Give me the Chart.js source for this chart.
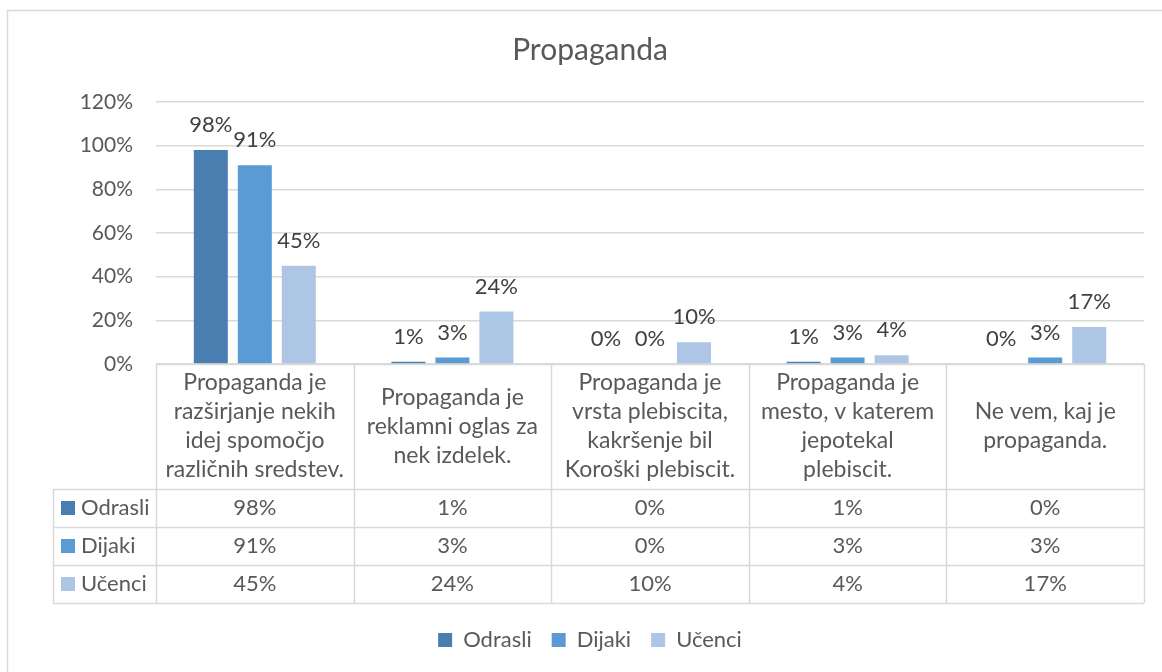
<!DOCTYPE html>
<html>
<head>
<meta charset="utf-8">
<title>Propaganda</title>
<script src="https://cdn.jsdelivr.net/npm/chart.js@4"></script>
<style>
  html, body { margin: 0; padding: 0; background: #fff; }
  #wrap { width: 1162px; height: 672px; position: relative; }
</style>
</head>
<body>
<div id="wrap"><canvas id="propChart" width="1162" height="672"></canvas></div>
<script>
// categories (already split into lines like in the original table header)
const categories = [
  ['Propaganda je', 'razširjanje nekih', 'idej spomočjo', 'različnih sredstev.'],
  ['Propaganda je', 'reklamni oglas za', 'nek izdelek.'],
  ['Propaganda je', 'vrsta plebiscita,', 'kakršenje bil', 'Koroški plebiscit.'],
  ['Propaganda je', 'mesto, v katerem', 'jepotekal', 'plebiscit.'],
  ['Ne vem, kaj je', 'propaganda.']
];
const seriesNames = ['Odrasli', 'Dijaki', 'Učenci'];
const odrasli = [98, 1, 0, 1, 0];
const dijaki = [91, 3, 0, 3, 3];
const ucenci = [45, 24, 10, 4, 17];
const yTicks = [0, 20, 40, 60, 80, 100, 120];

const colors = ['#4a7eb0', '#5b9bd5', '#adc6e5'];
const FONT = 'Lato, "Open Sans", sans-serif';
const textColor = '#595959';
const lineColor = '#d9d9d9';

const HEADER_H = 125;
const ROW_H = 38;
const LEFT_COL = 53;

// frame around the chart object (only top and left edges are in view)
const framePlugin = {
  id: 'frame',
  beforeDraw(chart) {
    const ctx = chart.ctx;
    ctx.save();
    ctx.strokeStyle = lineColor;
    ctx.lineWidth = 1.5;
    ctx.beginPath();
    ctx.moveTo(7.5, chart.height);
    ctx.lineTo(7.5, 10.5);
    ctx.lineTo(chart.width, 10.5);
    ctx.stroke();
    ctx.restore();
  }
};

// value labels above the bars
const valueLabels = {
  id: 'valueLabels',
  afterDatasetsDraw(chart) {
    const ctx = chart.ctx;
    ctx.save();
    ctx.font = '22px ' + FONT;
    ctx.fillStyle = '#404040';
    ctx.textAlign = 'center';
    ctx.textBaseline = 'middle';
    chart.data.datasets.forEach((ds, i) => {
      chart.getDatasetMeta(i).data.forEach((bar, j) => {
        ctx.fillText(ds.data[j] + '%', bar.x, bar.y - 25);
      });
    });
    ctx.restore();
  }
};

// data table under the plot (header with categories + one row per series)
const dataTable = {
  id: 'dataTable',
  afterDraw(chart) {
    const ctx = chart.ctx;
    const area = chart.chartArea;
    const x = chart.scales.x;
    const n = chart.data.labels.length;
    const colW = (area.right - area.left) / n;
    const top = area.bottom;
    const rowsTop = top + HEADER_H;
    const bottom = rowsTop + ROW_H * seriesNames.length;

    ctx.save();
    ctx.strokeStyle = lineColor;
    ctx.lineWidth = 1.5;
    ctx.beginPath();
    // vertical lines
    for (let i = 0; i <= n; i++) {
      const px = Math.round(area.left + colW * i) + 0.5;
      ctx.moveTo(px, top);
      ctx.lineTo(px, bottom);
    }
    ctx.moveTo(LEFT_COL + 0.5, rowsTop);
    ctx.lineTo(LEFT_COL + 0.5, bottom);
    // horizontal lines
    ctx.moveTo(area.left, top + 0.5);
    ctx.lineTo(area.right, top + 0.5);
    for (let r = 0; r <= seriesNames.length; r++) {
      const py = Math.round(rowsTop + ROW_H * r) + 0.5;
      ctx.moveTo(LEFT_COL, py);
      ctx.lineTo(area.right, py);
    }
    ctx.stroke();

    ctx.font = '23px ' + FONT;
    ctx.fillStyle = textColor;
    ctx.textAlign = 'center';
    ctx.textBaseline = 'middle';
    const lh = 29;
    chart.data.labels.forEach((lines, i) => {
      const cx = x.getPixelForValue(i);
      const y0 = top + HEADER_H / 2 - (lines.length - 1) * lh / 2;
      lines.forEach((t, k) => ctx.fillText(t, cx, y0 + k * lh));
    });

    ctx.font = '22px ' + FONT;
    chart.data.datasets.forEach((ds, r) => {
      const cy = rowsTop + ROW_H * r + ROW_H / 2;
      ctx.fillStyle = ds.backgroundColor;
      ctx.fillRect(LEFT_COL + 8, cy - 7, 14, 14);
      ctx.fillStyle = textColor;
      ctx.textAlign = 'left';
      ctx.fillText(ds.label, LEFT_COL + 28, cy);
      ctx.textAlign = 'center';
      ds.data.forEach((v, i) => {
        ctx.fillText(v + '%', x.getPixelForValue(i), cy);
      });
    });
    ctx.restore();
  }
};

new Chart(document.getElementById('propChart'), {
  type: 'bar',
  data: {
    labels: categories,
    datasets: [
      { label: seriesNames[0], data: odrasli, backgroundColor: colors[0] },
      { label: seriesNames[1], data: dijaki, backgroundColor: colors[1] },
      { label: seriesNames[2], data: ucenci, backgroundColor: colors[2] }
    ]
  },
  options: {
    responsive: false,
    animation: false,
    datasets: {
      bar: { categoryPercentage: 0.668, barPercentage: 0.773 }
    },
    layout: { padding: { left: 36, right: 18, top: 0, bottom: 11 } },
    scales: {
      x: {
        grid: { display: false },
        border: { display: false },
        ticks: { display: false },
        afterFit(scale) { scale.height = 245; }
      },
      y: {
        min: yTicks[0],
        max: yTicks[yTicks.length - 1],
        ticks: {
          stepSize: 20,
          padding: 23,
          color: textColor,
          font: { family: FONT, size: 21 },
          callback: v => v + '%'
        },
        grid: { color: lineColor, lineWidth: 1.5, drawTicks: false },
        border: { display: false },
        afterFit(scale) { scale.width = 120; }
      }
    },
    plugins: {
      title: {
        display: true,
        text: 'Propaganda',
        color: textColor,
        font: { family: FONT, size: 30, weight: 'normal' },
        padding: { top: 32, bottom: 34 }
      },
      legend: {
        position: 'bottom',
        maxHeight: 61,
        labels: {
          boxWidth: 14,
          boxHeight: 14,
          padding: 20,
          color: textColor,
          font: { family: FONT, size: 22 }
        }
      },
      tooltip: { enabled: false }
    }
  },
  plugins: [framePlugin, valueLabels, dataTable]
});
</script>
</body>
</html>
